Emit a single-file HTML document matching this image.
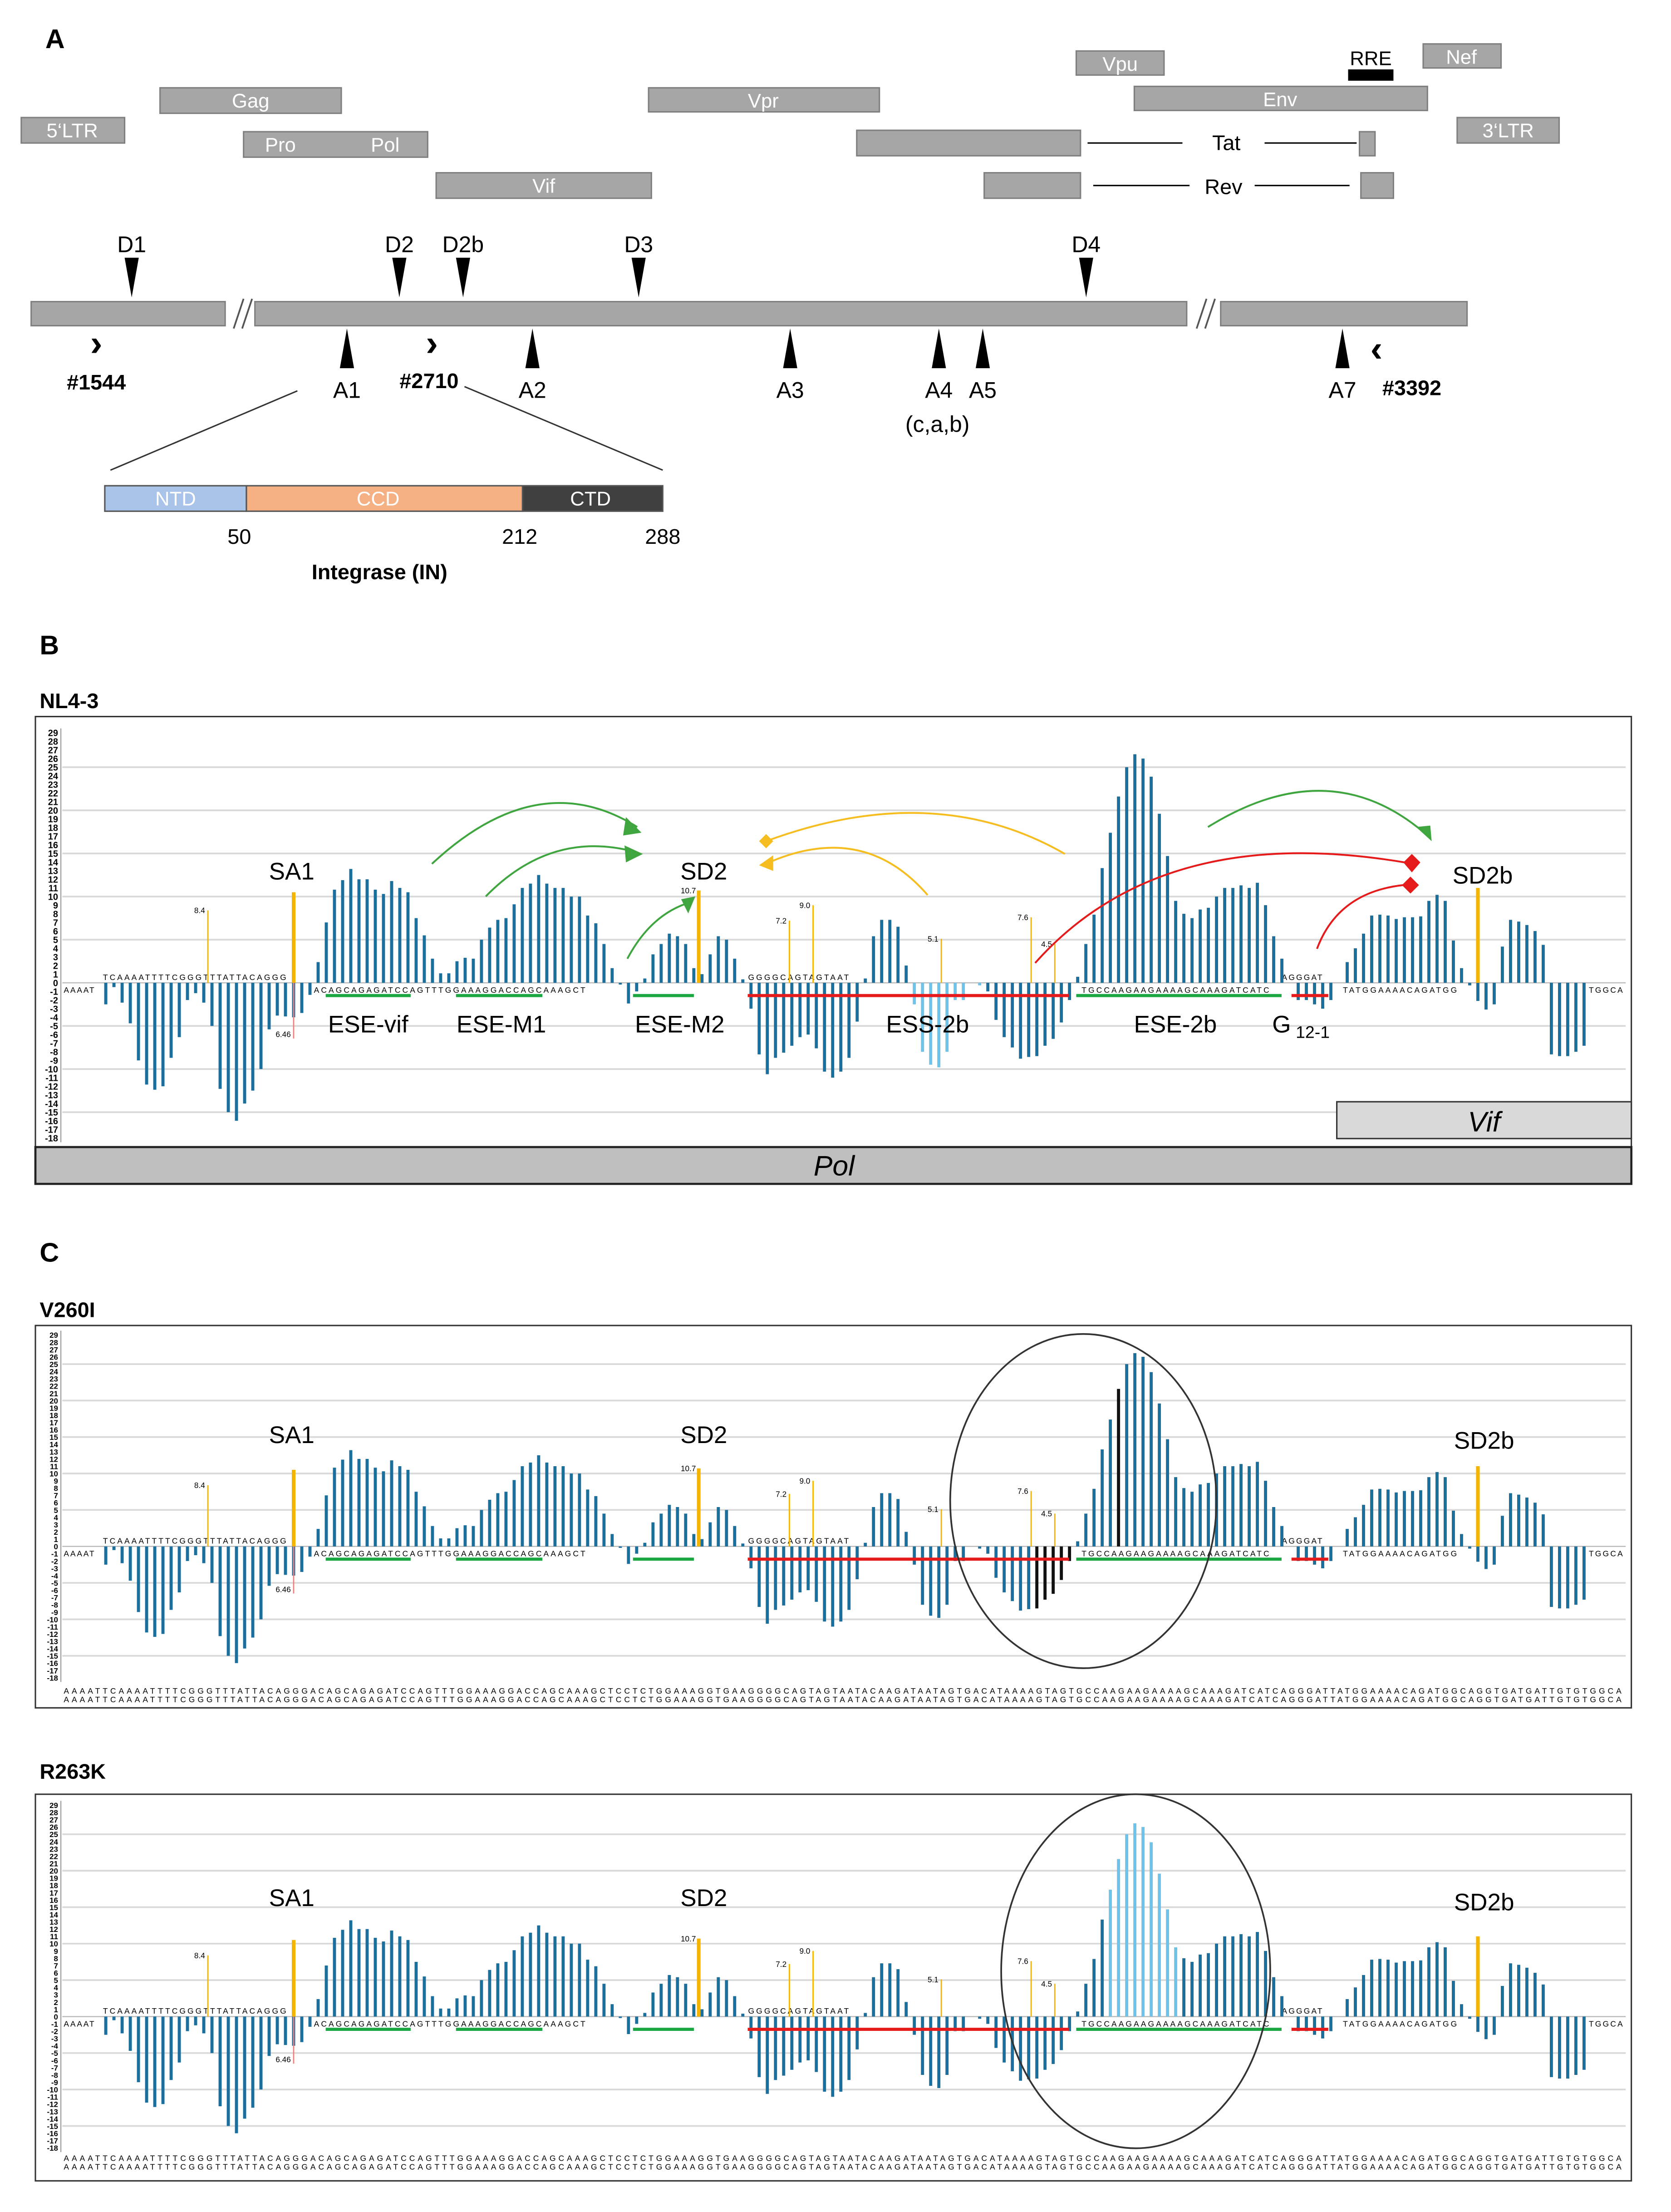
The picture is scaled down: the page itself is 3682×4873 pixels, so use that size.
<!DOCTYPE html>
<html><head><meta charset="utf-8"><style>
html,body{margin:0;padding:0;background:#fff}
svg{display:block}
text{font-family:"Liberation Sans",sans-serif}
</style></head><body>
<svg id="fig" xmlns="http://www.w3.org/2000/svg" width="3682" height="4873" viewBox="0 0 1180 1562" preserveAspectRatio="none">
<!-- PANEL A -->
<g>
<text x="32" y="34" font-size="19" font-weight="bold">A</text>
<g fill="#a6a6a6" stroke="#7f7f7f" stroke-width="1">
<rect x="15" y="83" width="73" height="18"/>
<rect x="113" y="62" width="128" height="18"/>
<rect x="172" y="93" width="130" height="18"/>
<rect x="308" y="122" width="152" height="18"/>
<rect x="458" y="62" width="163" height="17"/>
<rect x="605" y="92" width="158" height="18"/>
<rect x="960" y="93" width="11" height="17"/>
<rect x="695" y="122" width="68" height="18"/>
<rect x="961" y="122" width="23" height="18"/>
<rect x="760" y="36" width="62" height="17"/>
<rect x="801" y="61" width="207" height="17"/>
<rect x="1005" y="31" width="55" height="17"/>
<rect x="1029" y="83" width="72" height="18"/>
</g>
<rect x="952" y="49" width="32" height="8" fill="#000"/>
<g font-size="14" fill="#fff" text-anchor="middle">
<text x="51" y="97">5‘LTR</text><text x="177" y="76">Gag</text><text x="198" y="107">Pro</text><text x="272" y="107">Pol</text>
<text x="384" y="136">Vif</text><text x="539" y="76">Vpr</text><text x="791" y="50">Vpu</text><text x="904" y="75">Env</text>
<text x="1032" y="45">Nef</text><text x="1065" y="97">3‘LTR</text>
</g>
<text x="968" y="46" font-size="14" text-anchor="middle">RRE</text>
<g stroke="#000" stroke-width="1"><line x1="768" y1="101" x2="835" y2="101"/><line x1="893" y1="101" x2="958" y2="101"/><line x1="772" y1="131" x2="840" y2="131"/><line x1="886" y1="131" x2="953" y2="131"/></g>
<text x="866" y="106" font-size="15" text-anchor="middle">Tat</text>
<text x="864" y="137" font-size="15" text-anchor="middle">Rev</text>
<g fill="#a6a6a6" stroke="#7f7f7f">
<rect x="22" y="213" width="137" height="17"/><rect x="180" y="213" width="658" height="17"/><rect x="862" y="213" width="174" height="17"/>
</g>
<g stroke="#555" stroke-width="1.2"><line x1="165" y1="232" x2="172" y2="211"/><line x1="171" y1="232" x2="178" y2="211"/><line x1="845" y1="232" x2="852" y2="211"/><line x1="851" y1="232" x2="858" y2="211"/></g>
<g id="dmarks" font-size="16" text-anchor="middle"></g>
<g id="amarks" font-size="16" text-anchor="middle"></g>
<text x="662" y="305" font-size="16" text-anchor="middle">(c,a,b)</text>
<text x="68" y="251" font-size="26" font-weight="bold" text-anchor="middle">›</text>
<text x="305" y="251" font-size="26" font-weight="bold" text-anchor="middle">›</text>
<text x="972" y="255" font-size="26" font-weight="bold" text-anchor="middle">‹</text>
<g font-size="15" font-weight="bold" text-anchor="middle"><text x="68" y="275">#1544</text><text x="303" y="274">#2710</text><text x="997" y="279">#3392</text></g>
<line x1="210" y1="276" x2="78" y2="332" stroke="#333"/><line x1="328" y1="273" x2="468" y2="332" stroke="#333"/>
<g stroke="#555">
<rect x="74" y="343" width="100" height="18" fill="#a9c4e8"/><rect x="174" y="343" width="195" height="18" fill="#f5b084"/><rect x="369" y="343" width="99" height="18" fill="#404040"/>
</g>
<g font-size="14" fill="#fff" text-anchor="middle"><text x="124" y="357">NTD</text><text x="267" y="357">CCD</text><text x="417" y="357">CTD</text></g>
<g font-size="15" text-anchor="middle"><text x="169" y="384">50</text><text x="367" y="384">212</text><text x="468" y="384">288</text></g>
<text x="268" y="409" font-size="15" font-weight="bold" text-anchor="middle">Integrase (IN)</text>
</g>
<!-- PANEL B/C labels -->
<text x="28" y="462" font-size="19" font-weight="bold">B</text>
<text x="28" y="500" font-size="15" font-weight="bold">NL4-3</text>
<text x="28" y="891" font-size="19" font-weight="bold">C</text>
<text x="28" y="930" font-size="15" font-weight="bold">V260I</text>
<text x="28" y="1256" font-size="15" font-weight="bold">R263K</text>
<g id="charts"></g>
</svg>
<script>
// HEXplorer-like score per nucleotide (NL4-3)
const scores = [-2.5,-0.5,-2.3,-4.7,-9,-11.8,-12.4,-12,-8.7,-6.3,-2,-1.2,-2.3,-5,-12.3,-15,-16,-14,-12.5,-10,-5.4,-3.8,-3.9,-4,-3.5,-1.4,
2.4,7,10.8,11.9,13.2,12,12,10.8,10.3,11.8,11,10.5,7.5,5.5,2.8,1.1,1.1,2.5,2.9,2.8,5,6.4,7.3,7.5,9.1,11,11.5,12.5,11.5,11,11,10,10,7.8,6.9,4.5,1.7,
-0.2,-2.4,-1,0.5,3.3,4.5,5.7,5.4,4.5,1.7,1,3.3,5.4,5,2.8,0.4,-3,-8.3,-10.6,-8.7,-8.1,-7.3,-6.3,-6,-7.6,-10.3,-11,-10.3,
-8.7,-4.5,0.5,5.4,7.3,7.3,6.5,2,-2.5,-8,-9.5,-9.8,-8,-2,-2,0,-0.3,-1,-4.3,-6.3,-7.5,-8.8,-8.6,-8.5,-7.3,-6.5,-4.6,-2,
0.7,4.5,7.9,13.3,17.4,21.6,25,26.5,26,23.9,19.6,14.7,9.5,8,7.5,8.5,8.7,10,11,11,11.3,11,11.6,9,5.4,2.8,null,-2,-2,-2.5,-3,-2,null,
2.4,4,5.7,7.8,7.9,7.8,7.4,7.6,7.6,7.7,9.5,10.2,9.5,4.9,1.7,-0.3,-2.1,-3.1,-2.5,4.2,7.3,7.1,6.7,6,4.4,-8.3,-8.5,-8.5,-8,-7.3];
// splice-site strength markers (position index, value)
const markerIdx = [12.5,23,72.6,83.7,86.6,102.3,113.3,116.2,168];
const markerVal = [8.4,10.5,10.7,7.2,9.0,5.1,7.6,4.5,11];
const markerLbl = ["8.4","","10.7","7.2","9.0","5.1","7.6","4.5",""];
const markerThick = [0,1,1,0,0,0,0,0,1];
const yTicks = [29,28,27,26,25,24,23,22,21,20,19,18,17,16,15,14,13,12,11,10,9,8,7,6,5,4,3,2,1,0,-1,-2,-3,-4,-5,-6,-7,-8,-9,-10,-11,-12,-13,-14,-15,-16,-17,-18];
const gridVals = [25,20,15,10,5,0,-5,-10,-15];
const dNames=["D1","D2","D2b","D3","D4"], dX=[93,282,327,451,767];
const aNames=["A1","A2","A3","A4","A5","A7"], aX=[245,376,558,663,694,948];

const NS="http://www.w3.org/2000/svg";
function mk(p,tag,at,txt){const e=document.createElementNS(NS,tag);for(const k in at)e.setAttribute(k,at[k]);if(txt!==undefined)e.textContent=txt;p.appendChild(e);return e;}

const dm=document.getElementById('dmarks');
dNames.forEach((n,i)=>{const x=dX[i];
 const t=mk(dm,'polygon',{points:`${x-5},182 ${x+5},182 ${x},210`,fill:'#000'});
 
 
 mk(dm,'text',{x:x,y:178},n);});
const am=document.getElementById('amarks');
aNames.forEach((n,i)=>{const x=aX[i];
 const t=mk(am,'polygon',{points:`${x-5},260 ${x+5},260 ${x},232`,fill:'#000'});
 
 
 mk(am,'text',{x:x,y:281},n);});

const seqTop="TCAAAATTTTCGGGTTTATTACAGGG";
const SEQ="AAAATTCAAAATTTTCGGGTTTATTACAGGGACAGCAGAGATCCAGTTTGGAAAGGACCAGCAAAGCTCCTCTGGAAAGGTGAAGGGGCAGTAGTAATACAAGATAATAGTGACATAAAAGTAGTGCCAAGAAGAAAAGCAAAGATCATCAGGGATTATGGAAAACAGATGGCAGGTGATGATTGTGTGGCA";

function chart(cfg){
 const root=document.getElementById('charts');
 const g=mk(root,'g',{});
 
 
 const x0=74.7,x1=1118.6, step=(x1-x0)/(scores.length-1);
 const X=i=>x0+i*step, Y=v=>cfg.zero-v*cfg.unit;
 mk(g,'rect',{x:25,y:cfg.top,width:1127,height:cfg.bot-cfg.top,fill:'#fff',stroke:'#333','stroke-width':1});
 gridVals.forEach(v=>{if(v===0)return;const l=mk(g,'line',{x1:44,x2:1148,y1:Y(v),y2:Y(v),stroke:'#d9d9d9','stroke-width':1.2});
  });
 mk(g,'line',{x1:44,x2:1148,y1:Y(0),y2:Y(0),stroke:'#bbb','stroke-width':0.8});
 mk(g,'line',{x1:43,x2:43,y1:Y(29)-3,y2:Y(-18)+3,stroke:'#888','stroke-width':0.6});
 const ax=mk(g,'g',{'font-size':cfg.unit*1.05,'text-anchor':'end'});
 
 yTicks.forEach(v=>mk(ax,'text',{x:41,y:Y(v)+cfg.unit*0.4,'font-weight':'bold'},String(v)));
 if(cfg.pol){
  mk(g,'rect',{x:944,y:778,width:208,height:26,fill:'#d9d9d9',stroke:'#333'});
  mk(g,'rect',{x:25,y:810,width:1127,height:26,fill:'#bfbfbf',stroke:'#222','stroke-width':1.5});
  mk(g,'text',{x:589,y:830,'font-size':20,'font-style':'italic','text-anchor':'middle'},'Pol');
  mk(g,'text',{x:1048,y:799,'font-size':20,'font-style':'italic','text-anchor':'middle'},'Vif');
 }
 // sequence text
 mk(g,'text',{x:45,y:Y(0)+7,'font-size':5.6,'font-family':'Liberation Mono','letter-spacing':0.9},'AAAAT');
 mk(g,'text',{x:X(0)-2,y:Y(0)-2,'font-size':5.6,'font-family':'Liberation Mono','letter-spacing':1.3},seqTop);
 mk(g,'text',{x:X(26)-3,y:Y(0)+7,'font-size':5.6,'font-family':'Liberation Mono','letter-spacing':1.3},'ACAGCAGAGATCCAGTTTGGAAAGGACCAGCAAAGCT');
 mk(g,'text',{x:X(79)-2,y:Y(0)-2,'font-size':5.6,'font-family':'Liberation Mono','letter-spacing':1.3},'GGGGCAGTAGTAAT');
 mk(g,'text',{x:X(120)-3,y:Y(0)+7,'font-size':5.6,'font-family':'Liberation Mono','letter-spacing':1.3},'TGCCAAGAAGAAAAGCAAAGATCATC');
 mk(g,'text',{x:X(152)-3,y:Y(0)+7,'font-size':5.6,'font-family':'Liberation Mono','letter-spacing':1.3},'TATGGAAAACAGATGG');
 mk(g,'text',{x:X(144),y:Y(0)-2,'font-size':5.6,'font-family':'Liberation Mono','letter-spacing':1},'AGGGAT');
 mk(g,'text',{x:1122,y:Y(0)+7,'font-size':5.6,'font-family':'Liberation Mono','letter-spacing':1},'TGGCA');
 // bars
 scores.forEach((v,i)=>{ if(v===null||v===0)return;
  let col='#1b6f9c';
  if(cfg.light&&cfg.light.includes(i))col='#6fc3e8';
  if(cfg.dark&&cfg.dark.includes(i))col='#111';
  const y=Math.min(Y(0),Y(v)),h=Math.abs(Y(v)-Y(0));
  const r=mk(g,'rect',{x:X(i)-1.1,y:y,width:2.2,height:h,fill:col});
  
  
 });
 // splice markers
 markerIdx.forEach((mi,k)=>{
  const l=mk(g,'line',{x1:X(mi),x2:X(mi),y1:Y(0),y2:Y(markerVal[k]),stroke:'#f5b400','stroke-width':markerThick[k]?2.6:0.9});
  
  
  if(markerLbl[k])mk(g,'text',{x:X(mi)-2,y:Y(markerVal[k])+2,'font-size':5.5,'text-anchor':'end'},markerLbl[k]);
 });
 mk(g,'line',{x1:X(23),x2:X(23),y1:Y(0),y2:Y(-6.46),stroke:'#f08080','stroke-width':0.9});
 mk(g,'text',{x:X(23)-2,y:Y(-6.46)-1,'font-size':5.5,'text-anchor':'end'},'6.46');
 // element lines
 const G='#1aa640',R='#e51b1b';
 [[230,290,G],[322,383,G],[447,490,G],[760,905,G],[528,755,R],[912,938,R]].forEach(s=>{
  const l=mk(g,'line',{x1:s[0],x2:s[1],y1:Y(0)+9,y2:Y(0)+9,stroke:s[2],'stroke-width':2.2});
  
  
 });
 cfg.labels.forEach(L=>mk(g,'text',{x:L[0],y:L[1],'font-size':17,'text-anchor':'middle'},L[2]));
 if(cfg.ellipse){const e=mk(g,'ellipse',{cx:cfg.ellipse[0],cy:cfg.ellipse[1],rx:cfg.ellipse[2],ry:cfg.ellipse[3],fill:'none',stroke:'#333','stroke-width':1.2});
  }
 if(cfg.seqY){
  mk(g,'text',{x:45,y:cfg.seqY,'font-size':5.6,'font-family':'Liberation Mono',textLength:1100},SEQ);
  mk(g,'text',{x:45,y:cfg.seqY+6,'font-size':5.6,'font-family':'Liberation Mono',textLength:1100},SEQ);
 }
 return g;
}
const gB=chart({name:'nl4-3-chart',top:506,bot:836,zero:694,unit:6.09,pol:true,light:[99,100,101,102,103,104,105,106,107],
 labels:[[206,621,'SA1'],[497,621,'SD2'],[1047,624,'SD2b'],[260,729,'ESE-vif'],[354,729,'ESE-M1'],[480,729,'ESE-M2'],[655,729,'ESS-2b'],[830,729,'ESE-2b'],[905,729,'G']]});
mk(gB,'text',{x:915,y:733,'font-size':12},'12-1');
// arrows
function arc(p,d,col){const a=mk(p,'path',{d:d,fill:'none',stroke:col,'stroke-width':1.3});}
arc(gB,'M305,610 Q380,540 450,584','#3fa63f');mk(gB,'polygon',{points:'453,588 442,577 440,590',fill:'#3fa63f'});
arc(gB,'M343,633 Q390,585 450,602','#3fa63f');mk(gB,'polygon',{points:'454,603 441,597 442,609',fill:'#3fa63f'});
arc(gB,'M443,677 Q460,645 488,637','#3fa63f');mk(gB,'polygon',{points:'491,633 481,635 486,645',fill:'#3fa63f'});
arc(gB,'M853,584 Q940,530 1008,590','#3fa63f');mk(gB,'polygon',{points:'1011,594 1000,584 1010,583',fill:'#3fa63f'});
arc(gB,'M752,603 Q660,550 541,594','#f5bd1f');mk(gB,'polygon',{points:'536,594 541,589 546,594 541,599',fill:'#f5bd1f'});
arc(gB,'M655,632 Q610,580 543,609','#f5bd1f');mk(gB,'polygon',{points:'536,611 546,604 546,615',fill:'#f5bd1f'});
arc(gB,'M731,680 Q820,580 992,609','#e51b1b');mk(gB,'polygon',{points:'997,603 1003,609 997,616 991,609',fill:'#e51b1b'});
arc(gB,'M930,670 Q945,630 991,625','#e51b1b');mk(gB,'polygon',{points:'996,619 1002,625 996,631 990,625',fill:'#e51b1b'});
chart({name:'v260i-chart',top:936,bot:1206,zero:1092,unit:5.15,dark:[114,115,116,117,118,124],
 labels:[[206,1019,'SA1'],[497,1019,'SD2'],[1048,1023,'SD2b']],ellipse:[765,1060,94,118],seqY:1196});
chart({name:'r263k-chart',top:1267,bot:1540,zero:1424,unit:5.15,light:[123,124,125,126,127,128,129,130,131],
 labels:[[206,1346,'SA1'],[497,1346,'SD2'],[1048,1349,'SD2b']],ellipse:[802,1392,95,125],seqY:1526});
</script>
</body></html>
